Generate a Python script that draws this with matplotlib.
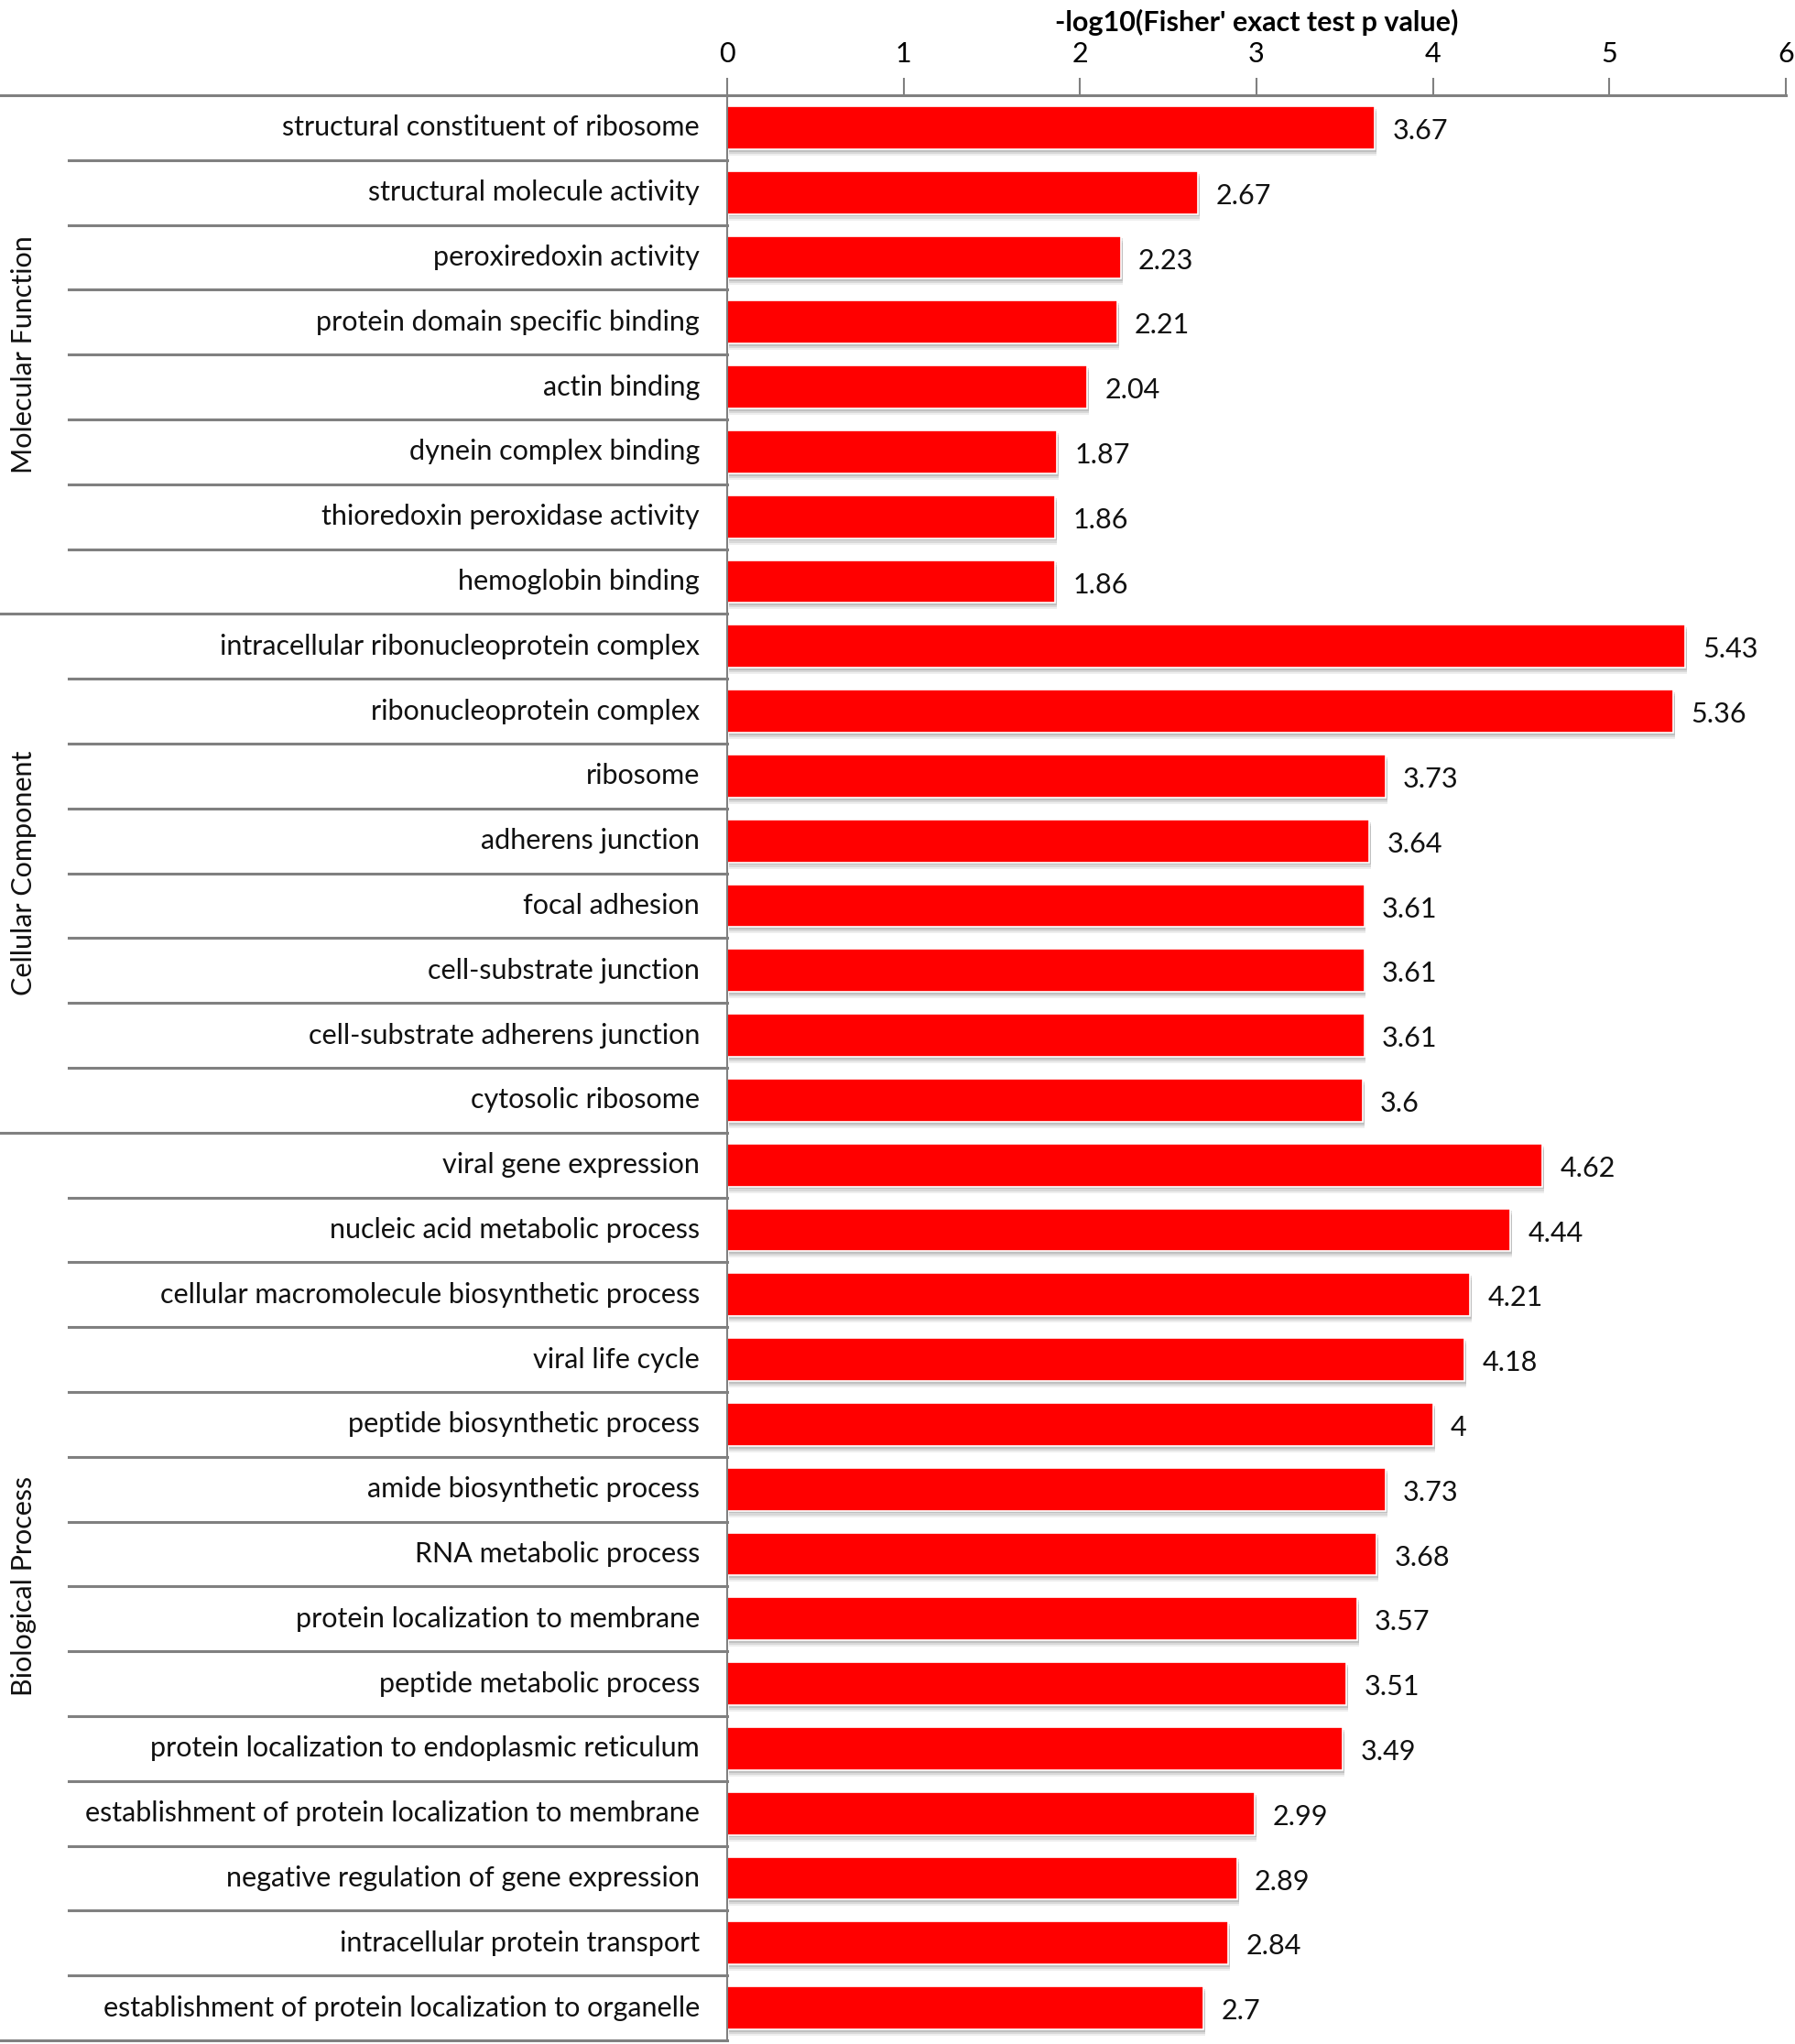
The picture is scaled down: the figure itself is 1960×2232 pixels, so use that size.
import matplotlib.pyplot as plt
import matplotlib.transforms as mtransforms

plt.rcParams['font.family'] = ['Lato', 'DejaVu Sans']

# GO terms, top to bottom
terms = [
    "structural constituent of ribosome",
    "structural molecule activity",
    "peroxiredoxin activity",
    "protein domain specific binding",
    "actin binding",
    "dynein complex binding",
    "thioredoxin peroxidase activity",
    "hemoglobin binding",
    "intracellular ribonucleoprotein complex",
    "ribonucleoprotein complex",
    "ribosome",
    "adherens junction",
    "focal adhesion",
    "cell-substrate junction",
    "cell-substrate adherens junction",
    "cytosolic ribosome",
    "viral gene expression",
    "nucleic acid metabolic process",
    "cellular macromolecule biosynthetic process",
    "viral life cycle",
    "peptide biosynthetic process",
    "amide biosynthetic process",
    "RNA metabolic process",
    "protein localization to membrane",
    "peptide metabolic process",
    "protein localization to endoplasmic reticulum",
    "establishment of protein localization to membrane",
    "negative regulation of gene expression",
    "intracellular protein transport",
    "establishment of protein localization to organelle",
]
values = [3.67, 2.67, 2.23, 2.21, 2.04, 1.87, 1.86, 1.86,
          5.43, 5.36, 3.73, 3.64, 3.61, 3.61, 3.61, 3.6,
          4.62, 4.44, 4.21, 4.18, 4, 3.73, 3.68, 3.57, 3.51, 3.49,
          2.99, 2.89, 2.84, 2.7]
value_labels = ["3.67", "2.67", "2.23", "2.21", "2.04", "1.87", "1.86", "1.86",
                "5.43", "5.36", "3.73", "3.64", "3.61", "3.61", "3.61", "3.6",
                "4.62", "4.44", "4.21", "4.18", "4", "3.73", "3.68", "3.57",
                "3.51", "3.49", "2.99", "2.89", "2.84", "2.7"]
groups = ["Molecular Function", "Cellular Component", "Biological Process"]
group_sizes = [8, 8, 14]

fig = plt.figure(figsize=(19.6, 22.32), dpi=100)
ax = fig.add_axes([794 / 1960, 4 / 2232, (1950 - 794) / 1960, (2128 - 4) / 2232])

n = len(terms)
ys = list(range(n))
h = 0.66

# soft shadow under bars
for dy, a in [(0.10, 0.10), (0.07, 0.15), (0.04, 0.2)]:
    ax.barh([y + dy for y in ys], values, height=h, left=0.01, color='#606060',
            alpha=a, linewidth=0, zorder=1)
ax.barh(ys, values, height=h, color='#FF0000', edgecolor='white', linewidth=1.2, zorder=2)

for y, v, lab in zip(ys, values, value_labels):
    ax.text(v + 0.1, y + 0.05, lab, va='center', ha='left', fontsize=22, color='#111111')

ax.set_xlim(0, 6)
ax.set_ylim(n - 0.5, -0.5)
ax.xaxis.tick_top()
ax.set_xticks(range(7))
ax.tick_params(axis='x', labelsize=22, length=14, width=1.5, color='#808080', pad=8)
ax.set_yticks([])
ax.set_xlabel("-log10(Fisher' exact test p value)", fontsize=22, fontweight='bold')
ax.xaxis.set_label_position('top')
ax.xaxis.labelpad = 8

for s in ['right', 'bottom']:
    ax.spines[s].set_visible(False)
ax.spines['top'].set_color('#808080')
ax.spines['top'].set_linewidth(2.2)
ax.spines['left'].set_color('#808080')
ax.spines['left'].set_linewidth(1.5)

# table-like lines to the left
trans = mtransforms.blended_transform_factory(fig.transFigure, ax.transData)
group_edges = [0]
for s in group_sizes:
    group_edges.append(group_edges[-1] + s)
for b in range(n + 1):
    yb = b - 0.5
    x0 = 0.0 if b in group_edges else 75 / 1960
    ax.plot([x0, 794 / 1960], [yb, yb], transform=trans, color='#808080',
            linewidth=2.2, clip_on=False, zorder=3)

for y, t in zip(ys, terms):
    ax.text(764 / 1960, y, t, transform=trans, ha='right', va='center', fontsize=22,
            color='#111111')

for g, start, size in zip(groups, group_edges[:-1], group_sizes):
    ax.text(26 / 1960, start + size / 2 - 0.5, g, transform=trans, rotation=90,
            ha='center', va='center', fontsize=22, color='#111111')

fig.savefig('out.png', dpi=100)
